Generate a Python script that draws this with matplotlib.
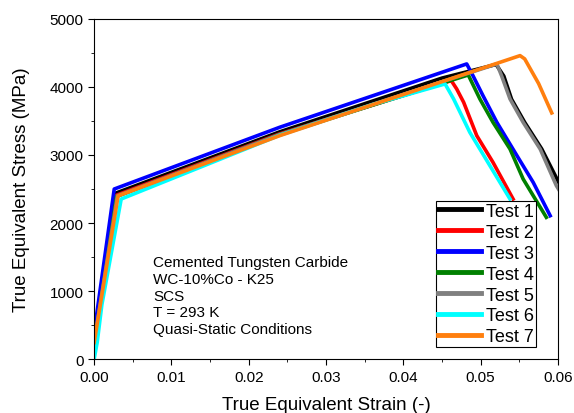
import numpy as np
import matplotlib.pyplot as plt

plt.rcParams["font.family"] = ["Liberation Sans", "DejaVu Sans"]

# strain (-) and stress (MPa)
strain_1 = [0.0, 0.0028, 0.024, 0.045, 0.0520, 0.0530, 0.0540, 0.0557, 0.0579, 0.0600, 0.0610]
stress_1 = [300, 2440, 3340, 4130, 4330, 4160, 3820, 3480, 3090, 2620, 2400]
strain_2 = [0.0, 0.0029, 0.024, 0.0450, 0.0462, 0.0469, 0.0478, 0.0495, 0.0516, 0.0542]
stress_2 = [200, 2410, 3310, 4050, 4093, 3971, 3775, 3284, 2892, 2353]
strain_3 = [0.0, 0.0026, 0.024, 0.0482, 0.0490, 0.0503, 0.0521, 0.0547, 0.0568, 0.0590]
stress_3 = [390, 2500, 3407, 4338, 4167, 3873, 3480, 2990, 2598, 2108]
strain_4 = [0.0, 0.0029, 0.024, 0.0484, 0.0499, 0.0516, 0.0538, 0.0555, 0.0585]
stress_4 = [150, 2390, 3300, 4176, 3824, 3480, 3088, 2647, 2084]
strain_5 = [0.0, 0.0030, 0.024, 0.0521, 0.0527, 0.0538, 0.0555, 0.0577, 0.0598, 0.0605]
stress_5 = [250, 2400, 3300, 4338, 4167, 3824, 3480, 3088, 2549, 2420]
strain_6 = [0.0, 0.0004, 0.0010, 0.0035, 0.024, 0.036, 0.0454, 0.0465, 0.0486, 0.0512, 0.0538]
stress_6 = [0, 250, 800, 2353, 3290, 3740, 4044, 3824, 3333, 2843, 2353]
strain_7 = [0.0, 0.0031, 0.024, 0.0551, 0.0557, 0.0575, 0.0592]
stress_7 = [245, 2400, 3284, 4460, 4412, 4050, 3618]

labels = ["Test 1", "Test 2", "Test 3", "Test 4", "Test 5", "Test 6", "Test 7"]
colors = ["black", "red", "#0000ff", "green", "gray", "cyan", "#ff7f0e"]
strains = [strain_1, strain_2, strain_3, strain_4, strain_5, strain_6, strain_7]
stresses = [stress_1, stress_2, stress_3, stress_4, stress_5, stress_6, stress_7]

fig = plt.figure(figsize=(5.74, 4.14), dpi=100)
ax = fig.add_axes([0.164, 0.130, 0.808, 0.822])

for x, y, c, lab in zip(strains, stresses, colors, labels):
    ax.plot(x, y, color=c, lw=2.6, label=lab, solid_joinstyle="round")

ax.set_xlim(0, 0.06)
ax.set_ylim(0, 5000)
ax.set_xticks(np.arange(0, 0.061, 0.01))
ax.set_xticks(np.arange(0.005, 0.06, 0.01), minor=True)
ax.set_yticks(np.arange(0, 5001, 1000))
ax.set_yticks(np.arange(500, 5000, 1000), minor=True)
ax.xaxis.set_major_formatter(plt.FormatStrFormatter("%.2f"))
ax.tick_params(which="both", direction="out", labelsize=11)
ax.tick_params(which="major", length=4)
ax.tick_params(which="minor", length=2.5)
ax.set_xlabel("True Equivalent Strain (-)", fontsize=13.5, labelpad=9)
ax.set_ylabel("True Equivalent Stress (MPa)", fontsize=13.5, labelpad=14)

ax.text(0.0076, 1530, "Cemented Tungsten Carbide\nWC-10%Co - K25\nSCS\nT = 293 K\nQuasi-Static Conditions",
        fontsize=11, va="top", ha="left", linespacing=1.25)

leg = ax.legend(loc="lower right", bbox_to_anchor=(0.953, 0.035), fontsize=13,
                frameon=True, fancybox=False, edgecolor="black", framealpha=1,
                handlelength=2.4, handletextpad=0.3, borderpad=0.1, labelspacing=0.22,
                borderaxespad=0)
leg.get_frame().set_linewidth(0.8)
for line in leg.get_lines():
    line.set_linewidth(3.5)

fig.savefig("out.png", dpi=100)
